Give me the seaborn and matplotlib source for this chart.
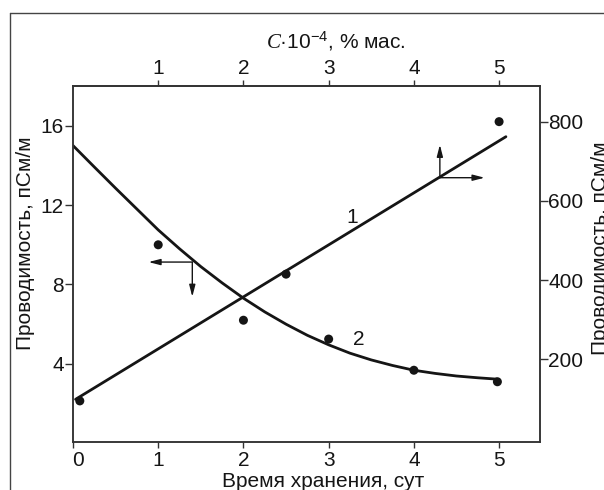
import matplotlib
matplotlib.use("Agg")
import matplotlib.pyplot as plt
from matplotlib.lines import Line2D
from matplotlib.transforms import ScaledTranslation
import pandas as pd
import seaborn as sns

# Curve 2: conductivity (left axis, pS/m) vs storage time, days
days_pts = [1.0, 2.0, 3.0, 4.0, 4.98]
cond_pts = [10.0, 6.2, 5.25, 3.68, 3.1]
days_fit = [0.0, 0.25, 0.5, 0.75, 1.0, 1.25, 1.5, 1.75, 2.0, 2.25, 2.5,
            2.75, 3.0, 3.25, 3.5, 3.75, 4.0, 4.25, 4.5, 4.75, 4.98]
cond_fit = [15.0, 13.92, 12.85, 11.8, 10.75, 9.8, 8.9, 8.08, 7.31, 6.62, 6.0,
            5.44, 4.96, 4.54, 4.2, 3.92, 3.68, 3.52, 3.39, 3.3, 3.23]

# Curve 1: conductivity (right axis, pS/m) vs additive concentration C·10^-4, % wt
conc_pts = [0.08, 2.5, 5.0]
cond2_pts = [95, 415, 800]
conc_fit = [0.03, 5.08]
cond2_fit = [99, 762]

x_ticks = [0, 1, 2, 3, 4, 5]
top_ticks = [1, 2, 3, 4, 5]
left_ticks = [4, 8, 12, 16]
right_ticks = [200, 400, 600, 800]

sns.set_theme(style="ticks")
plt.rcParams["font.family"] = ["Liberation Sans", "DejaVu Sans"]
plt.rcParams["mathtext.fontset"] = "custom"
plt.rcParams["mathtext.rm"] = "Liberation Sans"
plt.rcParams["mathtext.it"] = "Liberation Serif:italic"

W, H = 604, 490
fig = plt.figure(figsize=(W / 100, H / 100), dpi=100)
fig.patch.set_facecolor("white")

ax_l, ax_t, ax_r, ax_b = 73, 86, 540, 441.7
ax = fig.add_axes([ax_l / W, 1 - ax_b / H, (ax_r - ax_l) / W, (ax_b - ax_t) / H])
ax2 = ax.twinx()

ink = "#151515"
spine_c = "#333333"
fs = 15

df2 = pd.DataFrame({"t": days_fit, "g": cond_fit})
sns.lineplot(data=df2, x="t", y="g", ax=ax, color=ink, lw=2.0, sort=False,
             estimator=None, solid_joinstyle="round")
sns.scatterplot(x=days_pts, y=cond_pts, ax=ax, color=ink, s=42,
                edgecolor="none", zorder=5)

df1 = pd.DataFrame({"c": conc_fit, "g": cond2_fit})
sns.lineplot(data=df1, x="c", y="g", ax=ax2, color=ink, lw=2.0, sort=False,
             estimator=None)
sns.scatterplot(x=conc_pts, y=cond2_pts, ax=ax2, color=ink, s=42,
                edgecolor="none", zorder=5)

ax.set_xlim(0, 5.48)
ax.set_ylim(0.08, 18.0)
ax2.set_ylim(-8, 890)
ax.set_xticks(x_ticks)
ax.set_yticks(left_ticks)
ax2.set_yticks(right_ticks)
ax.set_xlabel("")
ax.set_ylabel("")
ax2.set_xlabel("")
ax2.set_ylabel("")

secx = ax.secondary_xaxis("top")
secx.set_xticks(top_ticks)

for a in (ax, ax2):
    for s in a.spines.values():
        s.set_visible(True)
        s.set_color(spine_c)
        s.set_linewidth(1.1)
for s in secx.spines.values():
    s.set_color(spine_c)
    s.set_linewidth(1.1)

ax.tick_params(axis="x", direction="out", length=4.5, width=1.0,
               color=spine_c, labelsize=fs, pad=2.5, labelcolor=ink)
ax.tick_params(axis="y", direction="out", length=5.5, width=1.0,
               color=spine_c, labelsize=fs, pad=1.2, labelcolor=ink)
ax2.tick_params(axis="y", direction="out", length=5.5, width=1.0,
                color=spine_c, labelsize=fs, pad=0.6, labelcolor=ink)
secx.tick_params(axis="x", direction="out", length=4.5, width=1.0,
                 color=spine_c, labelsize=fs, pad=1.5, labelcolor=ink)

# nudge the "0" label to the right, off the corner
lbl0 = ax.get_xticklabels()[0]
lbl0.set_transform(lbl0.get_transform() + ScaledTranslation(5 / 100, 0, fig.dpi_scale_trans))

# curve numbers
ax.text(3.28, 11.35, "1", fontsize=fs, color=ink, ha="center", va="center")
ax.text(3.35, 5.25, "2", fontsize=fs, color=ink, ha="center", va="center")

# arrows pointing to the axis each curve belongs to
arrow_kw = dict(arrowstyle="-|>,head_length=0.7,head_width=0.18", lw=1.0,
                color=ink, shrinkA=0, shrinkB=0, mutation_scale=10)
ax.annotate("", xy=(4.305, 15.04), xytext=(4.305, 13.38), arrowprops=arrow_kw)
ax.annotate("", xy=(4.83, 13.38), xytext=(4.305, 13.38), arrowprops=arrow_kw)
ax.annotate("", xy=(0.886, 9.13), xytext=(1.40, 9.13), arrowprops=arrow_kw)
ax.annotate("", xy=(1.40, 7.38), xytext=(1.40, 9.13), arrowprops=arrow_kw)

# axis titles
fig.text(26 / W, 1 - 243 / H, "Проводимость, пСм/м", rotation=90,
         ha="center", va="center", fontsize=fs, color=ink)
fig.text(600 / W, 1 - 248 / H, "Проводимость, пСм/м", rotation=90,
         ha="center", va="center", fontsize=fs, color=ink)
fig.text(323.5 / W, 1 - 487 / H, "Время хранения, сут", ha="center",
         va="baseline", fontsize=fs, color=ink)
fig.text(336 / W, 1 - 48.3 / H, r"$C$·10$^{−4}$, % мас.", ha="center",
         va="baseline", fontsize=fs, color=ink)

# outer frame of the figure panel
frame_c = "#444444"
fig.add_artist(Line2D([10 / W, 10 / W], [0, 1 - 13.3 / H], transform=fig.transFigure,
                      color=frame_c, lw=1.0))
fig.add_artist(Line2D([10 / W, 1], [1 - 13.3 / H, 1 - 13.3 / H],
                      transform=fig.transFigure, color=frame_c, lw=1.0))

fig.savefig("out.png", dpi=100, facecolor="white")
